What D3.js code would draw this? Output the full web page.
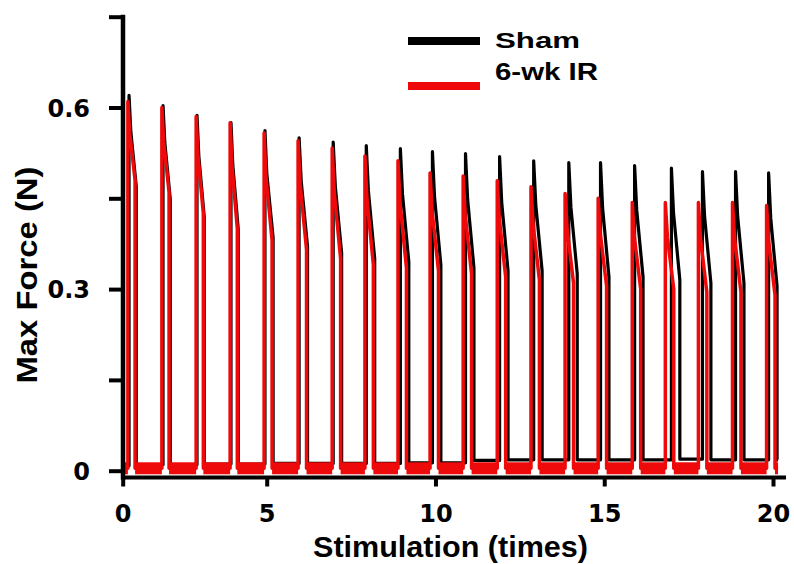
<!DOCTYPE html>
<html>
<head>
<meta charset="utf-8">
<script src="https://cdn.jsdelivr.net/npm/d3@7"></script>
<style>
  html, body { margin: 0; padding: 0; background: #fff; }
  svg { display: block; }
</style>
</head>
<body>
<svg id="chart" width="794" height="564"></svg>
<script>
// ---------------- data ----------------
const seriesNames = ["Sham", "6-wk IR"];
const xTickValues = [0, 5, 10, 15, 20];
const yTickValues = [0, 0.15, 0.3, 0.45, 0.6, 0.75];
const yTickLabels = ["0", "", "0.3", "", "0.6", ""];

// stimulation onset times (x units)
const shamTimes = [0.22, 1.40, 2.58, 3.76, 4.94, 5.96, 6.97, 7.95, 8.96, 9.91,
                   10.89, 11.90, 12.91, 13.95, 14.89, 15.90, 16.99, 17.91, 18.89, 19.87];
const irTimes   = [0.18, 1.36, 2.55, 3.73, 4.91, 5.93, 6.94, 7.91, 8.89, 9.84,
                   10.82, 11.83, 12.83, 13.84, 14.82, 15.83, 16.81, 17.79, 18.80, 19.81];
// peak force (N) of each contraction
const shamPeaks = [0.620, 0.603, 0.587, 0.575, 0.562, 0.550, 0.543, 0.537, 0.532, 0.527,
                   0.524, 0.519, 0.512, 0.509, 0.509, 0.504, 0.500, 0.494, 0.494, 0.492];
const irPeaks   = [0.610, 0.600, 0.585, 0.575, 0.558, 0.545, 0.533, 0.520, 0.512, 0.492,
                   0.487, 0.479, 0.469, 0.458, 0.450, 0.443, 0.443, 0.443, 0.443, 0.438];
// force at the end of each contraction (before relaxation)
const shamEnds  = [0.470, 0.450, 0.420, 0.400, 0.385, 0.370, 0.360, 0.350, 0.345, 0.340,
                   0.335, 0.330, 0.330, 0.325, 0.320, 0.320, 0.315, 0.310, 0.310, 0.305];
const irEnds    = [0.480, 0.460, 0.425, 0.400, 0.380, 0.365, 0.350, 0.340, 0.335, 0.330,
                   0.325, 0.320, 0.315, 0.310, 0.305, 0.300, 0.300, 0.295, 0.295, 0.290];
// resting force between contractions (N), one per interval (21 intervals)
const shamRest = [0.008, 0.010, 0.010, 0.011, 0.011, 0.012, 0.012, 0.012, 0.012, 0.013, 0.013,
                  0.017, 0.018, 0.018, 0.018, 0.018, 0.018, 0.019, 0.018, 0.018, 0.018];
const irRest = 0.004;
const traceStart = 0;
const traceEnd = 20.15;
const pulseDur = 0.25;

// ---------------- drawing ----------------
const svg = d3.select("#chart");
const x = d3.scaleLinear().domain([0, 5, 20]).range([122.7, 266.7, 773]);
const y = d3.scaleLinear().domain([0, 0.75]).range([470.7, 16.7]);

const RED = "#ee0a0a";
const FONT = "'Liberation Sans', Arial, sans-serif";

function tracePoints(times, peaks, ends, rest) {
  const r = i => (Array.isArray(rest) ? rest[i] : rest);
  const pts = [[traceStart, r(0)]];
  times.forEach((t, i) => {
    pts.push([t, r(i)], [t, peaks[i]],
             [t + pulseDur * 0.25, peaks[i] - 0.4 * (peaks[i] - ends[i])],
             [t + pulseDur, ends[i]], [t + pulseDur, r(i + 1)]);
  });
  pts.push([traceEnd, r(times.length)]);
  return pts;
}
function baseSegments(times, base) {
  const segs = [];
  let s = traceStart;
  times.forEach(t => { segs.push([[s, base], [t, base]]); s = t + pulseDur; });
  segs.push([[s, base], [traceEnd, base]]);
  return segs;
}
const line = d3.line().x(d => x(d[0])).y(d => y(d[1]));

// Sham trace (black)
svg.append("path")
  .attr("d", line(tracePoints(shamTimes, shamPeaks, shamEnds, shamRest)))
  .attr("fill", "none").attr("stroke", "#000")
  .attr("stroke-width", 3.2).attr("stroke-linejoin", "round");

// IR baseline band (noisy thick red)
svg.append("g").selectAll("path")
  .data(baseSegments(irTimes, irRest))
  .join("path")
  .attr("d", d => line(d))
  .attr("fill", "none").attr("stroke", RED).attr("stroke-width", 12);

// IR trace (red)
svg.append("path")
  .attr("d", line(tracePoints(irTimes, irPeaks, irEnds, irRest)))
  .attr("fill", "none").attr("stroke", RED)
  .attr("stroke-width", 3.5).attr("stroke-linejoin", "round");

// Y axis
const yAxisX = 123;
const yAx = svg.append("g").attr("transform", `translate(${yAxisX},0)`)
  .call(d3.axisLeft(y).tickValues(yTickValues)
        .tickFormat((d, i) => yTickLabels[i]).tickSize(14).tickPadding(19));
yAx.select(".domain").remove();
yAx.selectAll(".tick line").attr("stroke", "#000").attr("stroke-width", 4);
yAx.selectAll(".tick text")
  .attr("font-family", "'DejaVu Sans', sans-serif").attr("font-weight", "bold")
  .attr("font-size", 24).attr("fill", "#000").attr("dy", "0.36em");
yAx.append("line").attr("x1", 0).attr("x2", 0)
  .attr("y1", y(0.75) - 2).attr("y2", 479.5)
  .attr("stroke", "#000").attr("stroke-width", 4.5);

// X axis
const xAxisY = 477.5;
const xAx = svg.append("g").attr("transform", `translate(0,${xAxisY})`)
  .call(d3.axisBottom(x).tickValues(xTickValues).tickFormat(d3.format("d")).tickSize(9));
xAx.select(".domain").remove();
xAx.selectAll(".tick line").attr("stroke", "#000").attr("stroke-width", 4);
xAx.selectAll(".tick text")
  .attr("font-family", "'DejaVu Sans', sans-serif").attr("font-weight", "bold")
  .attr("font-size", 24).attr("fill", "#000").attr("y", 36).attr("dy", "0.36em");
xAx.append("line").attr("x1", 121).attr("x2", 786)
  .attr("y1", 0).attr("y2", 0)
  .attr("stroke", "#000").attr("stroke-width", 4);

// Axis titles
svg.append("text")
  .attr("x", 313).attr("y", 557)
  .attr("font-family", FONT).attr("font-weight", "bold").attr("font-size", 29)
  .attr("textLength", 275).attr("lengthAdjust", "spacingAndGlyphs")
  .text("Stimulation (times)");
svg.append("text")
  .attr("transform", "translate(37,275) rotate(-90)")
  .attr("text-anchor", "middle")
  .attr("font-family", FONT).attr("font-weight", "bold").attr("font-size", 30)
  .attr("textLength", 217).attr("lengthAdjust", "spacingAndGlyphs")
  .text("Max Force (N)");

// Legend
const legendColors = ["#000", RED];
const legendY = [41, 86];
const legendTextY = [48, 80];
const legendTextW = [85, 103];
const legendFont = [22, 23];
seriesNames.forEach((name, i) => {
  svg.append("line").attr("x1", 408).attr("x2", 480)
    .attr("y1", legendY[i]).attr("y2", legendY[i])
    .attr("stroke", legendColors[i]).attr("stroke-width", 8);
  svg.append("text").attr("x", 495).attr("y", legendTextY[i])
    .attr("font-family", FONT).attr("font-weight", "bold").attr("font-size", legendFont[i])
    .attr("textLength", legendTextW[i]).attr("lengthAdjust", "spacingAndGlyphs")
    .text(name);
});
</script>
</body>
</html>
